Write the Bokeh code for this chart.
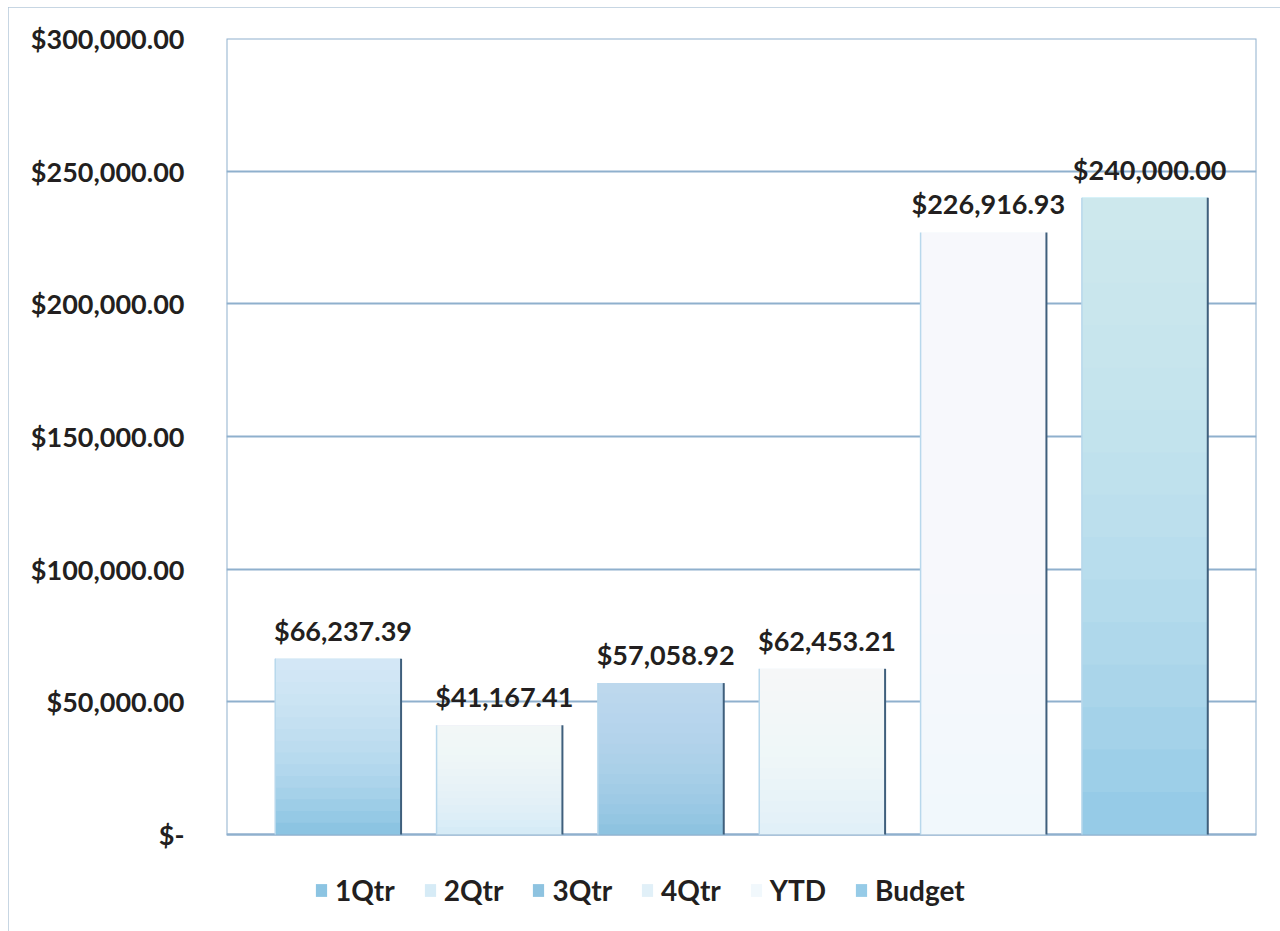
from bokeh.plotting import figure
from bokeh.models import (ColumnDataSource, FactorRange, FixedTicker, Legend, LegendItem,
                          BoxAnnotation)
from bokeh.transform import dodge
from bokeh.core.properties import value
from bokeh.embed import file_html
from bokeh.resources import INLINE

categories = ["1Qtr", "2Qtr", "3Qtr", "4Qtr", "YTD", "Budget"]
amounts = [66237.39, 41167.41, 57058.92, 62453.21, 226916.93, 240000.00]
amount_labels = ["$66,237.39", "$41,167.41", "$57,058.92", "$62,453.21", "$226,916.93", "$240,000.00"]
bar_top_colors = ["#eef7fb", "#fbfdfe", "#cde6f3", "#fdfeff", "#ffffff", "#e4f2f9"]
bar_low_colors = ["#8cc4e2", "#d6ebf6", "#8ec3e0", "#e1f0f8", "#f1f8fc", "#96cbe7"]
tick_values = [0, 50000, 100000, 150000, 200000, 250000, 300000]
tick_labels = ["$-", "$50,000.00", "$100,000.00", "$150,000.00", "$200,000.00", "$250,000.00", "$300,000.00"]

FONT = "Lato"
TXT = "#231f20"
FS = "27px"
GRID = "#8fb0cd"

src = ColumnDataSource(dict(cat=categories, amt=amounts, lab=amount_labels,
                            top_col=bar_top_colors, low_col=bar_low_colors,
                            zero=[0] * len(categories)))

y_max = tick_values[-1]
y_min = -y_max * 89 / 796  # room below the axis for the legend

p = figure(width=1272, height=924, output_backend="svg", toolbar_location=None,
           x_range=FactorRange(*categories, range_padding=0.064), y_range=(y_min, y_max),
           min_border_left=218, min_border_right=24, min_border_top=31, min_border_bottom=8)
p.styles = {"margin-left": "8px", "margin-top": "7px",
            "box-shadow": "inset 1px 1px 0 #b5c8da"}
p.outline_line_color = None

bw = 0.78
bars = p.vbar(x="cat", top="amt", width=bw, fill_color="low_col", line_color=None, source=src)
# lighter toward the top of each bar
N = 14
for k in range(1, N + 1):
    frac = 1 - k / (N + 1)
    shade = ColumnDataSource(dict(cat=categories, amt=amounts,
                                  bot=[a * frac for a in amounts], top_col=bar_top_colors))
    p.vbar(x="cat", top="amt", bottom="bot", width=bw, fill_color="top_col", fill_alpha=0.1,
           line_color=None, source=shade)

p.segment(x0=dodge("cat", -bw / 2, range=p.x_range), y0="zero",
          x1=dodge("cat", -bw / 2, range=p.x_range), y1="amt",
          line_color="#b8d8ec", line_width=1.5, source=src)
p.segment(x0=dodge("cat", bw / 2, range=p.x_range), y0="zero",
          x1=dodge("cat", bw / 2, range=p.x_range), y1="amt",
          line_color="#3f5f7c", line_width=2, source=src)

p.text(x=dodge("cat", 0.03, range=p.x_range), y="amt", text="lab", source=src,
       text_font=value(FONT), text_font_style="bold", text_font_size=FS,
       text_color=TXT, text_align="center", text_baseline="bottom", y_offset=-12)

# plot-area box (from 0 to the top tick)
p.add_layout(BoxAnnotation(bottom=0, top=y_max, fill_alpha=0, line_color=GRID,
                           line_alpha=1, line_width=2, level="underlay"))

p.xaxis.visible = False
p.xgrid.grid_line_color = None
p.ygrid.grid_line_color = GRID
p.ygrid.grid_line_width = 2
p.ygrid.ticker = FixedTicker(ticks=tick_values)

ya = p.yaxis[0]
ya.ticker = FixedTicker(ticks=tick_values)
ya.major_label_overrides = {v: s for v, s in zip(tick_values, tick_labels)}
ya.axis_line_color = None
ya.major_tick_line_color = None
ya.minor_tick_line_color = None
ya.major_label_standoff = 36
ya.major_label_text_font = FONT
ya.major_label_text_font_style = "bold"
ya.major_label_text_font_size = FS
ya.major_label_text_color = TXT

items = [LegendItem(label=c, renderers=[bars], index=i) for i, c in enumerate(categories)]
leg = Legend(items=items, orientation="horizontal", location=(88, 16),
             label_text_font=FONT, label_text_font_style="bold", label_text_font_size="28px",
             label_text_color=TXT, glyph_width=14, glyph_height=16, spacing=28,
             label_standoff=7, border_line_color=None, background_fill_alpha=0,
             padding=4, margin=0)
p.add_layout(leg, "center")

open("out.html", "w").write(file_html(p, INLINE))
